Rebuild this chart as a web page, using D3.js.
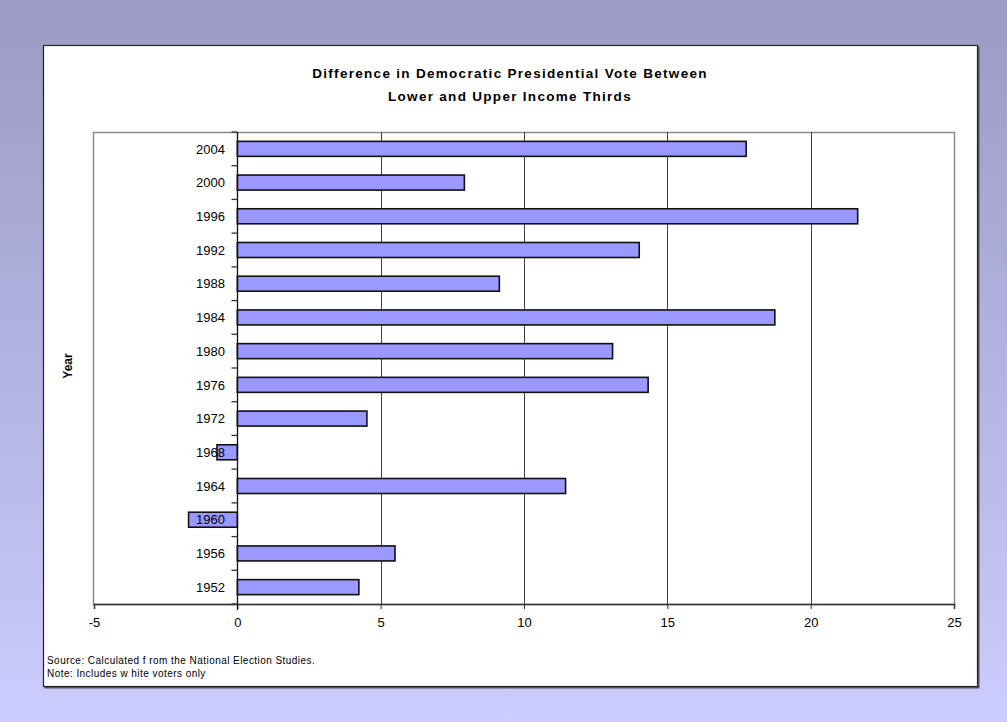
<!DOCTYPE html>
<html>
<head>
<meta charset="utf-8">
<script src="https://cdn.jsdelivr.net/npm/d3@7"></script>
<style>
  html, body { margin: 0; padding: 0; }
  body { width: 1007px; height: 722px; overflow: hidden; }
  text { font-family: "Liberation Sans", Arial, sans-serif; }
</style>
</head>
<body>
<svg id="chart" width="1007" height="722"></svg>
<script>
// Election years, bottom to top
const years = ["1952", "1956", "1960", "1964", "1968", "1972", "1976", "1980", "1984", "1988", "1992", "1996", "2000", "2004"];
// Difference in Democratic vote share, lower minus upper income third (points)
const diffs = [4.24, 5.5, -1.7, 11.45, -0.71, 4.52, 14.33, 13.09, 18.75, 9.14, 14.02, 21.64, 7.92, 17.75];
const xTicks = [-5, 0, 5, 10, 15, 20, 25];
const titleLines = ["Difference in Democratic Presidential Vote Between", "Lower and Upper Income Thirds"];
const notes = ["Source: Calculated f rom the National Election Studies.", "Note: Includes w hite voters only"];

const svg = d3.select("#chart");

// Page background gradient
const defs = svg.append("defs");
const grad = defs.append("linearGradient").attr("id", "bg").attr("x1", 0).attr("y1", 0).attr("x2", 0).attr("y2", 1);
grad.append("stop").attr("offset", "0%").attr("stop-color", "#9a9ac2");
grad.append("stop").attr("offset", "100%").attr("stop-color", "#ccccfe");
svg.append("rect").attr("width", 1007).attr("height", 722).attr("fill", "url(#bg)");

// Chart frame
svg.append("rect").attr("x", 44.5).attr("y", 46.5).attr("width", 935).attr("height", 642).attr("fill", "#555");
svg.append("rect").attr("x", 43.5).attr("y", 45.5).attr("width", 934).attr("height", 641)
  .attr("fill", "#fff").attr("stroke", "#222").attr("stroke-width", 1.2);

const plot = { left: 94, right: 954, top: 132, bottom: 604 };

const x = d3.scaleLinear().domain([-5, 25]).range([plot.left, plot.right]);
const y = d3.scaleBand().domain(years.slice().reverse()).range([plot.top, plot.bottom])
  .paddingInner(0.555).paddingOuter(0.2775);

// Plot area border
svg.append("rect").attr("x", plot.left - 0.5).attr("y", plot.top + 0.5)
  .attr("width", plot.right - plot.left + 1).attr("height", plot.bottom - plot.top)
  .attr("fill", "none").attr("stroke", "#8c8c8c").attr("stroke-width", 1.5);

// Vertical gridlines
svg.append("g").selectAll("line").data(xTicks.filter(t => t > 0 && t < 25)).join("line")
  .attr("x1", d => Math.round(x(d)) + 0.5).attr("x2", d => Math.round(x(d)) + 0.5)
  .attr("y1", plot.top).attr("y2", plot.bottom)
  .attr("stroke", "#404040").attr("stroke-width", 1);

// Bars
svg.append("g").selectAll("rect").data(years).join("rect")
  .attr("x", (d, i) => x(Math.min(0, diffs[i])))
  .attr("y", d => y(d))
  .attr("width", (d, i) => Math.abs(x(diffs[i]) - x(0)))
  .attr("height", y.bandwidth())
  .attr("fill", "#9999ff").attr("stroke", "#111").attr("stroke-width", 1.6);

// X axis (plain hyphen for negatives)
const xAxis = d3.axisBottom(x).tickValues(xTicks).tickSize(5).tickPadding(9).tickFormat(d => String(d));
const gx = svg.append("g").attr("transform", `translate(0,${plot.bottom})`).call(xAxis);
gx.select(".domain").attr("stroke", "#333").attr("stroke-width", 1.5);
gx.selectAll(".tick line").attr("stroke", "#333");
gx.selectAll(".tick text").attr("font-size", 13).attr("fill", "#000")
  .attr("font-family", "Liberation Sans, Arial, sans-serif");

// Y axis at zero, ticks between categories
const gy = svg.append("g").attr("transform", `translate(${Math.round(x(0)) + 0.5},0)`);
gy.append("line").attr("y1", plot.top).attr("y2", plot.bottom + 6).attr("stroke", "#111").attr("stroke-width", 1.3);
const step = y.step();
const bounds = d3.range(years.length + 1).map(i => plot.top + i * step);
gy.selectAll(".bt").data(bounds).join("line").attr("class", "bt")
  .attr("x1", -6).attr("x2", 0).attr("y1", d => d).attr("y2", d => d)
  .attr("stroke", "#333").attr("stroke-width", 1.3);

// Year labels, drawn over the bars
svg.append("g").selectAll("text").data(years).join("text")
  .attr("x", 225).attr("y", d => y(d) + y.bandwidth() / 2)
  .attr("dy", "0.36em").attr("text-anchor", "end")
  .attr("font-size", 13).attr("fill", "#000").text(d => d);

// Title
svg.append("g").selectAll("text").data(titleLines).join("text")
  .attr("x", 510).attr("y", (d, i) => 78 + i * 23)
  .attr("text-anchor", "middle").attr("font-size", 13.5).attr("font-weight", "bold")
  .attr("letter-spacing", "1.3px").attr("fill", "#000").text(d => d);

// Axis title
svg.append("text").attr("transform", "translate(72,366) rotate(-90)")
  .attr("text-anchor", "middle").attr("font-size", 12).attr("font-weight", "bold")
  .attr("fill", "#000").text("Year");

// Source notes
svg.append("g").selectAll("text").data(notes).join("text")
  .attr("x", 47).attr("y", (d, i) => 664 + i * 13)
  .attr("font-size", 10).attr("letter-spacing", "0.45px").attr("fill", "#000").text(d => d);
</script>
</body>
</html>
